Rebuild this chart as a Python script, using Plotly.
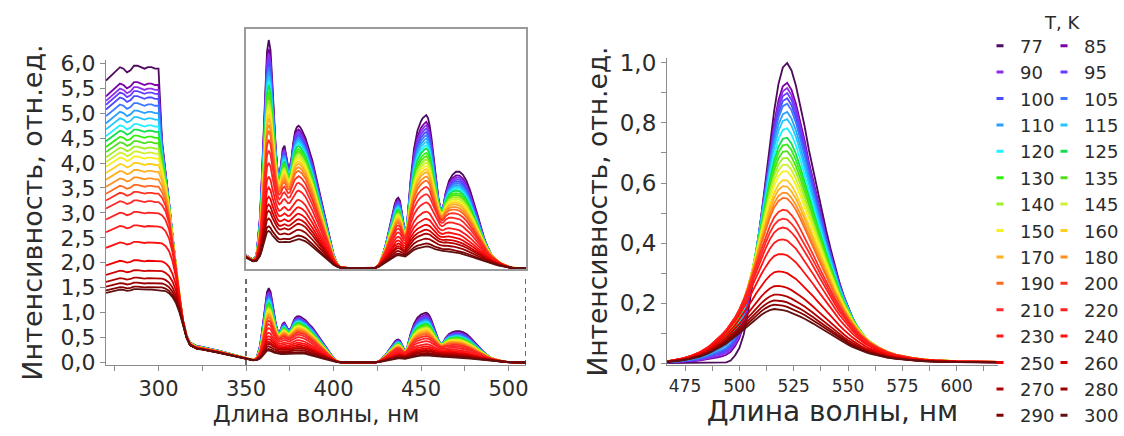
import numpy as np
import plotly.graph_objects as go

# ---------------- data ----------------
TEMPS = [77, 85, 90, 95, 100, 105, 110, 115, 120, 125, 130, 135, 140, 145, 150,
         160, 170, 180, 190, 200, 210, 220, 230, 240, 250, 260, 270, 280, 290, 300]

COLORS = ['#4d0a5e', '#7a00a8', '#8f2ee8', '#6a3cff', '#4b4bff', '#3a78ff', '#2aa0ff',
          '#20c8ff', '#20f0ff', '#10e050', '#30f010', '#50e020', '#9ef020', '#d0f030',
          '#f8f020', '#ffd020', '#ffb020', '#ff9020', '#ff6a20', '#ff3020', '#ff2a2a',
          '#ff2020', '#ff1a1a', '#ff1010', '#f00000', '#d00000', '#b00000', '#980000',
          '#800000', '#601010']

# excitation plateau level (~290 nm) per temperature
PLATEAU = [5.95, 5.62, 5.52, 5.44, 5.34, 5.20, 5.05, 4.92, 4.78, 4.67, 4.55, 4.44, 4.33,
           4.23, 4.13, 4.00, 3.86, 3.71, 3.56, 3.42, 3.25, 3.02, 2.75, 2.42, 2.05, 1.85,
           1.70, 1.60, 1.52, 1.47]
# height of the 363 nm line per temperature
LINE_PEAK = [1.48, 1.42, 1.39, 1.36, 1.33, 1.30, 1.27, 1.24, 1.21, 1.18, 1.14, 1.11, 1.08,
             1.05, 1.02, 0.99, 0.96, 0.92, 0.88, 0.82, 0.75, 0.67, 0.58, 0.51, 0.45, 0.40,
             0.36, 0.31, 0.26, 0.23]
# emission band maximum per temperature
EM_PEAK = [1.00, 0.937, 0.92, 0.904, 0.887, 0.87, 0.843, 0.82, 0.79, 0.76, 0.738, 0.716,
           0.694, 0.672, 0.65, 0.62, 0.60, 0.578, 0.56, 0.52, 0.49, 0.46, 0.42, 0.37, 0.31,
           0.26, 0.23, 0.21, 0.195, 0.18]

# excitation band 270-350 nm
EXC_WL = list(range(270, 351, 2))
EXC_SHAPE = [0.95, 0.962, 0.972, 0.985, 0.995, 0.99, 0.978, 0.985, 1.0, 1.0, 0.995, 0.99,
             0.995, 0.995, 0.99, 0.99, 0.99, 0.97, 0.93, 0.86, 0.76, 0.62, 0.45, 0.28, 0.14,
             0.05, 0.0, 0.0, 0.0, 0.0, 0.0, 0.0, 0.0, 0.0, 0.0, 0.0, 0.0, 0.0, 0.0, 0.0, 0.0]
INF = float('inf')
EXC_EDGE = [INF] * 16 + [4.6, 3.89, 3.22, 2.49, 1.8, 1.15, 0.64, 0.28, 0.09, 0.03, 0.0,
                         0.0, 0.0, 0.0, 0.0, 0.0, 0.0, 0.0, 0.0, 0.0, 0.0, 0.0, 0.0, 0.0, 0.0]
EXC_TAIL = [0.0] * 16 + [0.0, 0.01, 0.03, 0.06, 0.10, 0.15, 0.21, 0.27, 0.31, 0.33, 0.33,
                         0.32, 0.30, 0.29, 0.27, 0.255, 0.24, 0.22, 0.20, 0.18, 0.16, 0.14,
                         0.12, 0.10, 0.085]

# line region 352-510 nm (77 K and 300 K curves)
LINE_WL = [352, 354, 356, 358, 359, 360, 361, 362, 363, 364, 365, 366, 367, 368, 369, 370,
           371, 372, 373, 374, 375, 376, 377, 378, 379, 380, 381, 382, 384, 386, 388, 390,
           392, 394, 396, 398, 400, 402, 404, 410, 416, 422, 424, 426, 428, 430, 432, 434,
           435, 436, 437, 438, 439, 440, 441, 442, 443, 444, 446, 448, 450, 451, 452, 453,
           454, 455, 456, 458, 460, 461, 462, 463, 464, 466, 468, 470, 472, 474, 476, 478,
           480, 482, 484, 486, 488, 490, 492, 494, 496, 498, 500, 502, 506, 510]
LINE_COLD = [0, 0, 0.04, 0.3, 0.55, 0.85, 1.15, 1.4, 1.48, 1.42, 1.22, 0.98, 0.78, 0.64,
             0.6, 0.68, 0.78, 0.8, 0.74, 0.67, 0.66, 0.72, 0.82, 0.89, 0.92, 0.93, 0.92, 0.9,
             0.85, 0.77, 0.7, 0.6, 0.5, 0.4, 0.29, 0.18, 0.09, 0.03, 0.0, 0, 0, 0,
             0.0, 0.02, 0.08, 0.16, 0.27, 0.37, 0.42, 0.45, 0.46, 0.44, 0.37, 0.27, 0.22, 0.28,
             0.42, 0.57, 0.78, 0.9, 0.96, 0.98, 0.99, 1.0, 0.98, 0.93, 0.85, 0.65, 0.45, 0.4,
             0.38, 0.42, 0.49, 0.57, 0.61, 0.63, 0.63, 0.61, 0.57, 0.51, 0.44, 0.36, 0.28,
             0.2, 0.14, 0.09, 0.06, 0.035, 0.02, 0.01, 0.005, 0.0, 0, 0]
LINE_HOT = [0, 0, 0.01, 0.05, 0.09, 0.14, 0.19, 0.225, 0.235, 0.23, 0.215, 0.2, 0.19, 0.178,
            0.17, 0.168, 0.17, 0.172, 0.17, 0.168, 0.17, 0.175, 0.18, 0.185, 0.188, 0.19,
            0.188, 0.185, 0.175, 0.16, 0.14, 0.12, 0.1, 0.08, 0.06, 0.04, 0.022, 0.01, 0.003,
            0, 0, 0, 0.002, 0.01, 0.025, 0.04, 0.055, 0.07, 0.078, 0.083, 0.085, 0.083, 0.078,
            0.075, 0.076, 0.085, 0.095, 0.105, 0.12, 0.13, 0.137, 0.14, 0.142, 0.143, 0.142,
            0.14, 0.135, 0.125, 0.118, 0.115, 0.113, 0.112, 0.112, 0.11, 0.106, 0.102, 0.098,
            0.092, 0.085, 0.078, 0.07, 0.062, 0.054, 0.045, 0.037, 0.03, 0.024, 0.018, 0.013,
            0.008, 0.005, 0.002, 0, 0]
LINE_TAIL = [0.07, 0.055, 0.045, 0.035, 0.03, 0.025, 0.02, 0.015, 0.01, 0.005] + [0.0] * 84

# emission band (normalised 77 K and 300 K shapes)
EM_WL = [466, 470, 474, 478, 482, 486, 490, 492, 494, 496, 498, 500, 502, 504, 506, 508,
         510, 512, 514, 516, 518, 520, 522, 524, 526, 528, 530, 532, 534, 536, 538, 540,
         542, 544, 546, 548, 550, 552, 554, 556, 558, 560, 564, 568, 572, 576, 580, 585,
         590, 600, 610, 619]
EM_COLD = [0, 0, 0, 0, 0, 0, 0, 0, 0.002, 0.008, 0.025, 0.05, 0.095, 0.17, 0.26, 0.37, 0.49,
           0.61, 0.73, 0.84, 0.93, 0.985, 1.0, 0.975, 0.925, 0.86, 0.79, 0.71, 0.64, 0.57,
           0.5, 0.44, 0.38, 0.32, 0.27, 0.225, 0.185, 0.15, 0.12, 0.095, 0.075, 0.06, 0.04,
           0.027, 0.019, 0.013, 0.01, 0.007, 0.005, 0.003, 0.002, 0.002]
EM_HOT = [0.015, 0.03, 0.05, 0.08, 0.12, 0.18, 0.26, 0.31, 0.36, 0.42, 0.48, 0.55, 0.62,
          0.69, 0.76, 0.83, 0.89, 0.94, 0.98, 1.0, 0.995, 0.98, 0.96, 0.93, 0.9, 0.86, 0.82,
          0.78, 0.73, 0.68, 0.63, 0.58, 0.53, 0.48, 0.43, 0.385, 0.34, 0.3, 0.265, 0.23, 0.2,
          0.175, 0.135, 0.1, 0.075, 0.058, 0.045, 0.033, 0.025, 0.017, 0.013, 0.012]

LEFT_XTICKS = [300, 350, 400, 450, 500]
RIGHT_XTICKS = [475, 500, 525, 550, 575, 600]

# ---------------- build curves ----------------
exc_shape = np.array(EXC_SHAPE)
exc_edge = np.array(EXC_EDGE)
exc_tail = np.array(EXC_TAIL)
line_cold = np.array(LINE_COLD) / LINE_PEAK[0]
line_hot = np.array(LINE_HOT) / LINE_PEAK[-1]
line_tail = np.array(LINE_TAIL)
em_cold = np.array(EM_COLD)
em_hot = np.array(EM_HOT)
left_x = EXC_WL + LINE_WL


def softmin(a, b, p=6.0):
    out = np.zeros_like(a)
    ok = (a > 0) & (b > 0)
    out[ok] = (a[ok] ** -p + b[ok] ** -p) ** (-1.0 / p)
    return out


FONT = 'DejaVu Sans'
TXT = '#2b2b2b'
AX = '#8c8c8c'

fig = go.Figure()
for i, (t, col) in enumerate(zip(TEMPS, COLORS)):
    k = 0.8 + 0.2 * LINE_PEAK[i] / LINE_PEAK[0]
    exc = softmin(PLATEAU[i] * exc_shape, exc_edge) + k * exc_tail
    m = (LINE_PEAK[0] - LINE_PEAK[i]) / (LINE_PEAK[0] - LINE_PEAK[-1])
    lines = LINE_PEAK[i] * ((1 - m) * line_cold + m * line_hot) + k * line_tail
    left_y = np.concatenate([exc, lines])
    me = (EM_PEAK[0] - EM_PEAK[i]) / (EM_PEAK[0] - EM_PEAK[-1])
    em = EM_PEAK[i] * ((1 - me) * em_cold + me * em_hot)
    ln = dict(color=col, width=1.8)
    fig.add_trace(go.Scatter(x=left_x, y=left_y, mode='lines', line=ln, showlegend=False,
                             xaxis='x', yaxis='y', hoverinfo='skip'))
    fig.add_trace(go.Scatter(x=left_x, y=left_y, mode='lines', line=ln, showlegend=False,
                             xaxis='x3', yaxis='y3', hoverinfo='skip'))
    fig.add_trace(go.Scatter(x=EM_WL, y=em, mode='lines', line=ln, showlegend=False,
                             xaxis='x2', yaxis='y2', name=str(t)))

# legend entries (two columns)
for i, (t, col) in enumerate(zip(TEMPS, COLORS)):
    fig.add_trace(go.Scatter(x=[None], y=[None], mode='markers', name=str(t),
                             marker=dict(symbol='line-ew', size=5, color=col,
                                         line=dict(width=3, color=col)),
                             legend='legend' if i % 2 == 0 else 'legend2',
                             xaxis='x2', yaxis='y2'))

W, H = 1124, 436


def px_x(a, b):
    return [a / W, b / W]


def px_y(top, bottom):
    return [(H - bottom) / H, (H - top) / H]


def fx(a):
    return a / W


def fy(a):
    return (H - a) / H


common = dict(showgrid=False, zeroline=False, showline=True, linecolor=AX, linewidth=1.2,
              ticks='outside', ticklen=5, tickcolor=AX, tickwidth=1.2)
NB = '\u00a0'

fig.update_layout(
    width=W, height=H, template='none',
    margin=dict(l=0, r=0, t=0, b=0, pad=0),
    paper_bgcolor='white', plot_bgcolor='rgba(0,0,0,0)',
    separators=', ',
    font=dict(family=FONT, color=TXT),
    xaxis=dict(domain=px_x(106, 526), range=[270, 510], anchor='y',
               tickvals=LEFT_XTICKS, tickfont=dict(family=FONT, size=21, color=TXT),
               minor=dict(dtick=25, ticks='outside', ticklen=5, tickcolor=AX),
               title=dict(text='Длина волны, нм', font=dict(family=FONT, size=23, color=TXT),
                          standoff=4),
               automargin=False, **common),
    yaxis=dict(domain=px_y(60, 365), range=[-0.05, 6.065], anchor='x', dtick=0.5, tick0=0,
               tickformat='.1f', tickfont=dict(family=FONT, size=22, color=TXT),
               title=dict(text=NB * 3 + 'Интенсивность, отн.ед.',
                          font=dict(family=FONT, size=27, color=TXT), standoff=10),
               automargin=False, **common),
    xaxis2=dict(domain=px_x(667, 998), range=[466.7, 619], anchor='y2',
                tickvals=RIGHT_XTICKS, tickfont=dict(family=FONT, size=17, color=TXT),
                minor=dict(dtick=12.5, ticks='outside', ticklen=5, tickcolor=AX),
                title=dict(text='Длина волны, нм', font=dict(family=FONT, size=28, color=TXT),
                           standoff=6),
                automargin=False, **common),
    yaxis2=dict(domain=px_y(58, 365), range=[-0.0066, 1.0166], anchor='x2', dtick=0.2,
                tick0=0, tickformat='.1f', tickfont=dict(family=FONT, size=23, color=TXT),
                minor=dict(dtick=0.1, ticks='outside', ticklen=5, tickcolor=AX),
                title=dict(text=NB * 2 + 'Интенсивность, отн.ед.',
                           font=dict(family=FONT, size=26.5, color=TXT), standoff=4),
                automargin=False, **common),
    xaxis3=dict(domain=px_x(246, 526), range=[350, 510], anchor='y3', showgrid=False,
                zeroline=False, showline=True, mirror=True, linecolor='#9a9a9a',
                linewidth=1.6, ticks='', showticklabels=False),
    yaxis3=dict(domain=px_y(29.3, 269.3), range=[-0.007, 1.56], anchor='x3', showgrid=False,
                zeroline=False, showline=True, mirror=True, linecolor='#9a9a9a',
                linewidth=1.6, ticks='', showticklabels=False),
    legend=dict(x=fx(980), y=fy(27.5), xanchor='left', yanchor='top',
                orientation='v', bgcolor='rgba(0,0,0,0)', itemwidth=30, tracegroupgap=0,
                font=dict(family=FONT, size=18, color=TXT)),
    legend2=dict(x=fx(1044), y=fy(27.5), xanchor='left', yanchor='top',
                 orientation='v', bgcolor='rgba(0,0,0,0)', itemwidth=30, tracegroupgap=0,
                 font=dict(family=FONT, size=18, color=TXT)),
    annotations=[dict(text='T, K', x=fx(1062), y=fy(23), xref='paper', yref='paper',
                      xanchor='center', yanchor='middle', showarrow=False,
                      font=dict(family=FONT, size=18, color=TXT))],
    shapes=[dict(type='line', xref='x', yref='y', x0=xv, x1=xv, y0=-0.05, y1=1.75,
                 line=dict(color='#3a3a3a', width=1.5, dash='5px,4px'))
            for xv in (350, 510)],
)

fig.write_html('out.html',
               config={'displayModeBar': False},
               post_script="document.body.style.margin='0';"
                           "document.body.style.overflow='hidden';")
